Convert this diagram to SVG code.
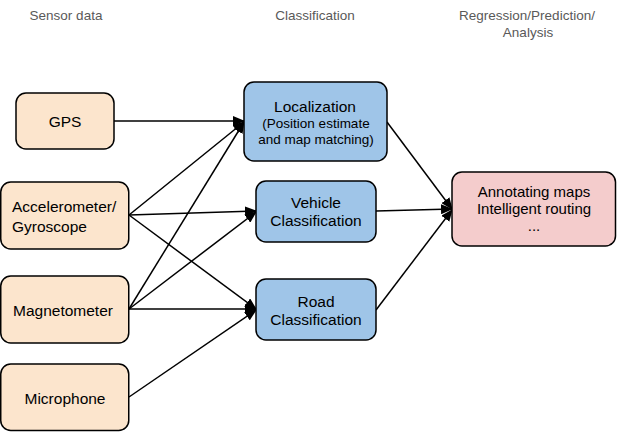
<svg xmlns="http://www.w3.org/2000/svg" width="617" height="432" viewBox="0 0 617 432">
<style>
.hdr{font-family:"Liberation Sans",Arial,sans-serif;font-size:13.5px;fill:#595959;text-anchor:middle}
.t{font-family:"Liberation Sans",Arial,sans-serif;font-size:15.5px;fill:#000;text-anchor:middle}
.l{font-family:"Liberation Sans",Arial,sans-serif;font-size:15.5px;fill:#000;text-anchor:start}
.s{font-family:"Liberation Sans",Arial,sans-serif;font-size:13.5px;fill:#000;text-anchor:middle}
.o{font-family:"Liberation Sans",Arial,sans-serif;font-size:15px;fill:#000;text-anchor:middle}
.sensor rect{fill:#fce5cd;stroke:#000;stroke-width:1.5}
.cls rect{fill:#9fc5e8;stroke:#000;stroke-width:1.5}
.out rect{fill:#f4cccc;stroke:#000;stroke-width:1.5}
#connectors line{stroke:#000;stroke-width:1.5;marker-end:url(#ah)}
</style>
<defs>
<marker id="ah" markerWidth="12" markerHeight="10" refX="11" refY="5" orient="auto" markerUnits="userSpaceOnUse">
<path d="M0,0 L12,5 L0,10 Z" fill="#000"/>
</marker>
</defs>
<rect width="617" height="432" fill="#fff"/>
<text class="hdr" x="66" y="20">Sensor data</text>
<text class="hdr" x="315" y="20">Classification</text>
<text class="hdr" x="527" y="20">Regression/Prediction/</text>
<text class="hdr" x="528" y="37">Analysis</text>

<g id="connectors">
<line x1="114" y1="121" x2="244" y2="121"/>
<line x1="129" y1="215" x2="244" y2="122"/>
<line x1="129" y1="215" x2="256" y2="211"/>
<line x1="129" y1="215" x2="256" y2="309"/>
<line x1="129" y1="309" x2="244" y2="122"/>
<line x1="129" y1="309" x2="256" y2="212"/>
<line x1="129" y1="309" x2="256" y2="309"/>
<line x1="129" y1="397" x2="256" y2="310"/>
<line x1="387" y1="122" x2="452" y2="209"/>
<line x1="376" y1="211" x2="452" y2="209"/>
<line x1="376" y1="310" x2="452" y2="210"/>
</g>

<g id="gps" class="sensor"><rect x="16" y="93" width="98" height="56" rx="10"/><text class="t" x="65" y="127">GPS</text></g>
<g id="accel" class="sensor"><rect x="0.75" y="182" width="128" height="67" rx="10"/><text class="l" x="12" y="212">Accelerometer/</text><text class="l" x="12" y="232">Gyroscope</text></g>
<g id="magnet" class="sensor"><rect x="0.75" y="276" width="128" height="67" rx="10"/><text class="t" x="63" y="316">Magnetometer</text></g>
<g id="micro" class="sensor"><rect x="0.75" y="364" width="128" height="66.5" rx="10"/><text class="t" x="65" y="404">Microphone</text></g>

<g id="loc" class="cls"><rect x="244" y="82" width="143" height="79" rx="10"/><text class="t" x="315" y="112">Localization</text><text class="s" x="316" y="128">(Position estimate</text><text class="s" x="316" y="144">and map matching)</text></g>
<g id="vehicle" class="cls"><rect x="256" y="181" width="120" height="61" rx="10"/><text class="t" x="316" y="208">Vehicle</text><text class="t" x="316" y="226">Classification</text></g>
<g id="road" class="cls"><rect x="256" y="279" width="120" height="61" rx="10"/><text class="t" x="316" y="307">Road</text><text class="t" x="316" y="325">Classification</text></g>

<g id="output" class="out"><rect x="452" y="172" width="163.5" height="74" rx="10"/><text class="o" x="534" y="197">Annotating maps</text><text class="o" x="534" y="214">Intelligent routing</text><text class="o" x="534" y="231">...</text></g>
</svg>
